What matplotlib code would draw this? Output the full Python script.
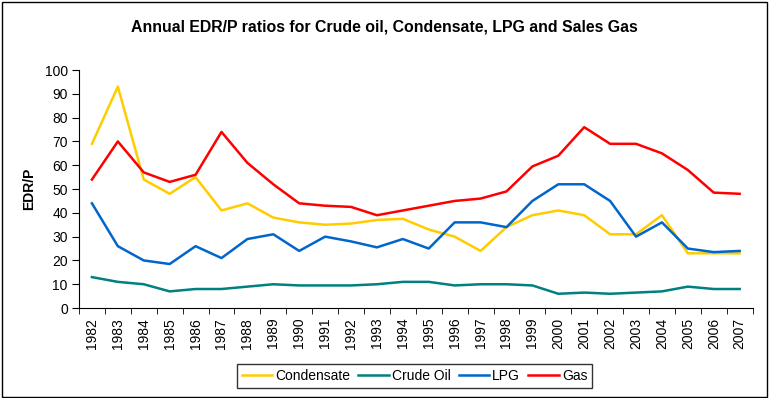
import numpy as np
import matplotlib.pyplot as plt
from matplotlib.patches import Rectangle

plt.rcParams['font.family'] = ['Liberation Sans', 'DejaVu Sans']

years = list(range(1982, 2008))
condensate = [69, 93, 54, 48, 55, 41, 44, 38, 36, 35, 35.5, 37, 37.5, 33, 30, 24,
              34, 39, 41, 39, 31, 31, 39, 23, 23, 23]
crude_oil = [13, 11, 10, 7, 8, 8, 9, 10, 9.5, 9.5, 9.5, 10, 11, 11, 9.5, 10,
             10, 9.5, 6, 6.5, 6, 6.5, 7, 9, 8, 8]
lpg = [44, 26, 20, 18.5, 26, 21, 29, 31, 24, 30, 28, 25.5, 29, 25, 36, 36,
       34, 45, 52, 52, 45, 30, 36, 25, 23.5, 24]
gas = [54, 70, 57, 53, 56, 74, 61, 52, 44, 43, 42.5, 39, 41, 43, 45, 46,
       49, 59.5, 64, 76, 69, 69, 65, 58, 48.5, 48]

fig = plt.figure(figsize=(7.69, 3.98), dpi=100)
ax = fig.add_axes([0.1027, 0.226, 0.876, 0.598])

x = np.arange(len(years))
ax.plot(x, condensate, color='#FFCC00', lw=1.8, label='Condensate')
ax.plot(x, crude_oil, color='#008080', lw=1.8, label='Crude Oil')
ax.plot(x, lpg, color='#0066CC', lw=1.8, label='LPG')
ax.plot(x, gas, color='#FF0000', lw=1.8, label='Gas')

ax.set_xlim(-0.5, len(years) - 0.5)
ax.set_ylim(0, 100)
ax.set_yticks(range(0, 101, 10))
ax.set_xticks(x)
ax.set_xticklabels([str(y) for y in years], rotation=90, fontsize=10)
ax.set_xticks(np.arange(-0.5, len(years), 1), minor=True)
ax.tick_params(axis='x', which='major', length=0, pad=7)
ax.tick_params(axis='x', which='minor', length=4, direction='out')
ax.tick_params(axis='y', length=5, direction='out', labelsize=10, pad=3)
ax.spines['top'].set_visible(False)
ax.spines['right'].set_visible(False)

ax.set_ylabel('EDR/P', fontsize=10, fontweight='bold', labelpad=6)
fig.text(0.5, 0.932, 'Annual EDR/P ratios for Crude oil, Condensate, LPG and Sales Gas',
         ha='center', va='center', fontsize=11.4, fontweight='bold')

leg = fig.legend(loc='center', bbox_to_anchor=(0.539, 0.055), ncol=4, frameon=True,
                 fancybox=False, edgecolor='black', fontsize=10, handlelength=2.2,
                 handletextpad=0.2, columnspacing=0.6, borderpad=0.35)
leg.get_frame().set_linewidth(1)

fig.patches.append(Rectangle((0.002, 0.003), 0.995, 0.993, transform=fig.transFigure,
                             fill=False, edgecolor='black', lw=1))

fig.savefig('out.png', dpi=100)
